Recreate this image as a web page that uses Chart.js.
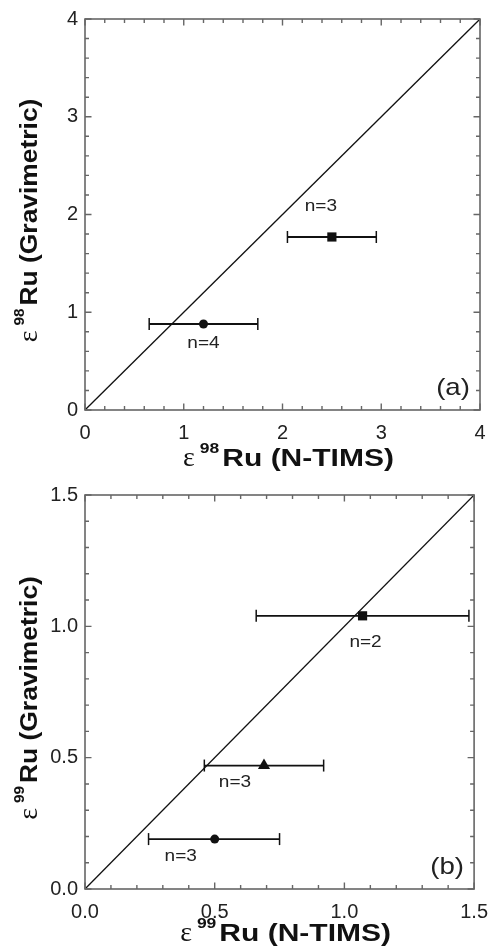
<!DOCTYPE html>
<html>
<head>
<meta charset="utf-8">
<script src="https://cdn.jsdelivr.net/npm/chart.js@4"></script>
<style>
  body { margin: 0; background: #fff; }
  canvas { display: block; }
</style>
</head>
<body>
<canvas id="chartA" width="499" height="476"></canvas>
<canvas id="chartB" width="499" height="476"></canvas>
<script>
// panel (a): eps 98Ru
var aTicks = [0, 1, 2, 3, 4];
var aNtims = [1.2, 2.5];
var aNtimsLo = [0.65, 2.05];
var aNtimsHi = [1.75, 2.95];
var aGrav = [0.88, 1.77];
var aCounts = ['n=4', 'n=3'];

// panel (b): eps 99Ru
var bTicks = [0.0, 0.5, 1.0, 1.5];
var bNtims = [0.5, 0.69, 1.07];
var bNtimsLo = [0.245, 0.46, 0.66];
var bNtimsHi = [0.75, 0.92, 1.48];
var bGrav = [0.19, 0.47, 1.04];
var bCounts = ['n=3', 'n=3', 'n=2'];

var SANS = '"Liberation Sans", Arial, Helvetica, sans-serif';
var SERIF = '"Liberation Serif", "Times New Roman", serif';
var FRAME = '#666';

// draws "ε ⁹⁸Ru (…)" centred on (cx, cy), optionally rotated for the y axis
function drawAxisTitle(ctx, cx, cy, iso, rest, sx, rotated) {
  ctx.save();
  ctx.translate(cx, cy);
  if (rotated) ctx.rotate(-Math.PI / 2);
  ctx.fillStyle = '#111';
  ctx.textBaseline = 'alphabetic';
  ctx.textAlign = 'left';
  ctx.font = '28px ' + SERIF;
  var wE = ctx.measureText('ε').width;
  ctx.font = 'bold 14px ' + SANS;
  var wI = ctx.measureText(iso).width * sx;
  ctx.font = 'bold 24px ' + SANS;
  var wR = ctx.measureText(rest).width * sx;
  var x = -(wE + 5 + wI + 3 + wR) / 2;
  ctx.font = '28px ' + SERIF;
  ctx.fillText('ε', x, 0);
  x += wE + 5;
  ctx.save(); ctx.translate(x, -13); ctx.scale(sx, 1);
  ctx.font = 'bold 14px ' + SANS; ctx.fillText(iso, 0, 0);
  ctx.restore();
  x += wI + 3;
  ctx.save(); ctx.translate(x, 0); ctx.scale(sx, 1);
  ctx.font = 'bold 24px ' + SANS; ctx.fillText(rest, 0, 0);
  ctx.restore();
  ctx.restore();
}

function stretched(ctx, text, x, y, sx) {
  ctx.save();
  ctx.translate(x, y);
  ctx.scale(sx, 1);
  ctx.fillText(text, 0, 0);
  ctx.restore();
}

var framePlugin = {
  id: 'frame',
  afterDraw: function (chart, args, opts) {
    var ctx = chart.ctx, a = chart.chartArea;
    ctx.save();
    ctx.strokeStyle = FRAME;
    ctx.lineWidth = 1.6;
    ctx.strokeRect(a.left, a.top, a.right - a.left, a.bottom - a.top);
    // inward ticks on all four sides
    ctx.lineWidth = 1.4;
    ['x', 'y'].forEach(function (id) {
      var s = chart.scales[id];
      s.ticks.forEach(function (t) {
        var len = t.label !== '' ? 6.5 : 4;
        var p = s.getPixelForValue(t.value);
        ctx.beginPath();
        if (id === 'x') {
          ctx.moveTo(p, a.bottom); ctx.lineTo(p, a.bottom - len);
          ctx.moveTo(p, a.top); ctx.lineTo(p, a.top + len);
        } else {
          ctx.moveTo(a.left, p); ctx.lineTo(a.left + len, p);
          ctx.moveTo(a.right, p); ctx.lineTo(a.right - len, p);
        }
        ctx.stroke();
      });
    });
    ctx.restore();

    // sample counts next to the points
    var xs = chart.scales.x, ys = chart.scales.y;
    ctx.save();
    ctx.fillStyle = '#222';
    ctx.font = '17px ' + SANS;
    ctx.textBaseline = 'middle';
    opts.counts.forEach(function (txt, i) {
      var off = opts.countOffsets[i];
      var w = ctx.measureText(txt).width * 1.12;
      var px = xs.getPixelForValue(opts.px[i]) + off[0] - w / 2;
      var py = ys.getPixelForValue(opts.py[i]) + off[1];
      stretched(ctx, txt, px, py, 1.12);
    });
    // panel tag
    ctx.font = '24px ' + SANS;
    var tw = ctx.measureText(opts.tag).width * 1.15;
    stretched(ctx, opts.tag, a.right - 27 - tw / 2, a.bottom - 22, 1.15);
    ctx.restore();

    // axis titles
    var cxm = (a.left + a.right) / 2 + 6;
    var cym = (a.top + a.bottom) / 2 + 6;
    drawAxisTitle(ctx, cxm, a.bottom + opts.titleGap, opts.iso, 'Ru (N-TIMS)', 1.25, false);
    drawAxisTitle(ctx, 37, cym, opts.iso, 'Ru (Gravimetric)', 1.1, true);
  }
};

function makePanel(id, p) {
  var isMajor = function (v) {
    return p.major.some(function (m) { return Math.abs(m - v) < 1e-6; });
  };
  var datasets = [{
    type: 'line',
    data: [{ x: p.min, y: p.min }, { x: p.max, y: p.max }],
    borderColor: '#111',
    borderWidth: 1.3,
    pointRadius: 0
  }];
  p.x.forEach(function (v, i) {
    datasets.push({
      type: 'line',
      data: [{ x: p.lo[i], y: p.y[i] }, { x: p.hi[i], y: p.y[i] }],
      borderColor: '#111',
      borderWidth: 1.8,
      pointStyle: 'line',
      rotation: 90,
      pointRadius: 6,
      pointBorderWidth: 1.5,
      pointBorderColor: '#111'
    });
  });
  datasets.push({
    type: 'scatter',
    data: p.x.map(function (v, i) { return { x: v, y: p.y[i] }; }),
    pointStyle: p.styles,
    pointRadius: p.radii,
    backgroundColor: '#111',
    borderColor: '#111',
    borderWidth: 0
  });

  var tickFmt = function (v) { return isMajor(v) ? v.toFixed(p.dec) : ''; };

  return new Chart(document.getElementById(id), {
    type: 'scatter',
    data: { datasets: datasets },
    options: {
      responsive: false,
      animation: false,
      devicePixelRatio: 1,
      layout: { padding: { top: p.padTop, right: p.padRight, left: 0, bottom: 0 } },
      plugins: {
        legend: { display: false },
        tooltip: { enabled: false },
        frame: {
          counts: p.counts, countOffsets: p.countOffsets,
          px: p.x, py: p.y, tag: p.tag, iso: p.iso, titleGap: p.titleGap
        }
      },
      scales: {
        x: {
          type: 'linear', min: p.min, max: p.max,
          grid: { display: false, drawTicks: false },
          border: { display: false },
          ticks: {
            stepSize: p.minor, autoSkip: false, maxRotation: 0, padding: 11,
            color: '#222', font: { family: SANS, size: 20 }, callback: tickFmt
          },
          afterFit: function (s) { s.height = p.xHeight; }
        },
        y: {
          type: 'linear', min: p.min, max: p.max,
          grid: { display: false, drawTicks: false },
          border: { display: false },
          ticks: {
            stepSize: p.minor, autoSkip: false, padding: 7,
            color: '#222', font: { family: SANS, size: 20 }, callback: tickFmt
          },
          afterFit: function (s) { s.width = 85; }
        }
      }
    },
    plugins: [framePlugin]
  });
}

makePanel('chartA', {
  min: 0, max: 4, minor: 0.2, major: aTicks, dec: 0,
  x: aNtims, lo: aNtimsLo, hi: aNtimsHi, y: aGrav, counts: aCounts,
  styles: ['circle', 'rect'], radii: [4.5, 6.5],
  countOffsets: [[0, 19], [-11, -31]],
  padTop: 15, padRight: 19, xHeight: 66, titleGap: 56, iso: '98', tag: '(a)'
});

makePanel('chartB', {
  min: 0, max: 1.5, minor: 0.1, major: bTicks, dec: 1,
  x: bNtims, lo: bNtimsLo, hi: bNtimsHi, y: bGrav, counts: bCounts,
  styles: ['circle', 'triangle', 'rect'], radii: [4.5, 7, 6.5],
  countOffsets: [[-34, 17], [-29, 17], [3, 26]],
  padTop: 18, padRight: 20, xHeight: 63, titleGap: 52, iso: '99', tag: '(b)'
});
</script>
</body>
</html>
